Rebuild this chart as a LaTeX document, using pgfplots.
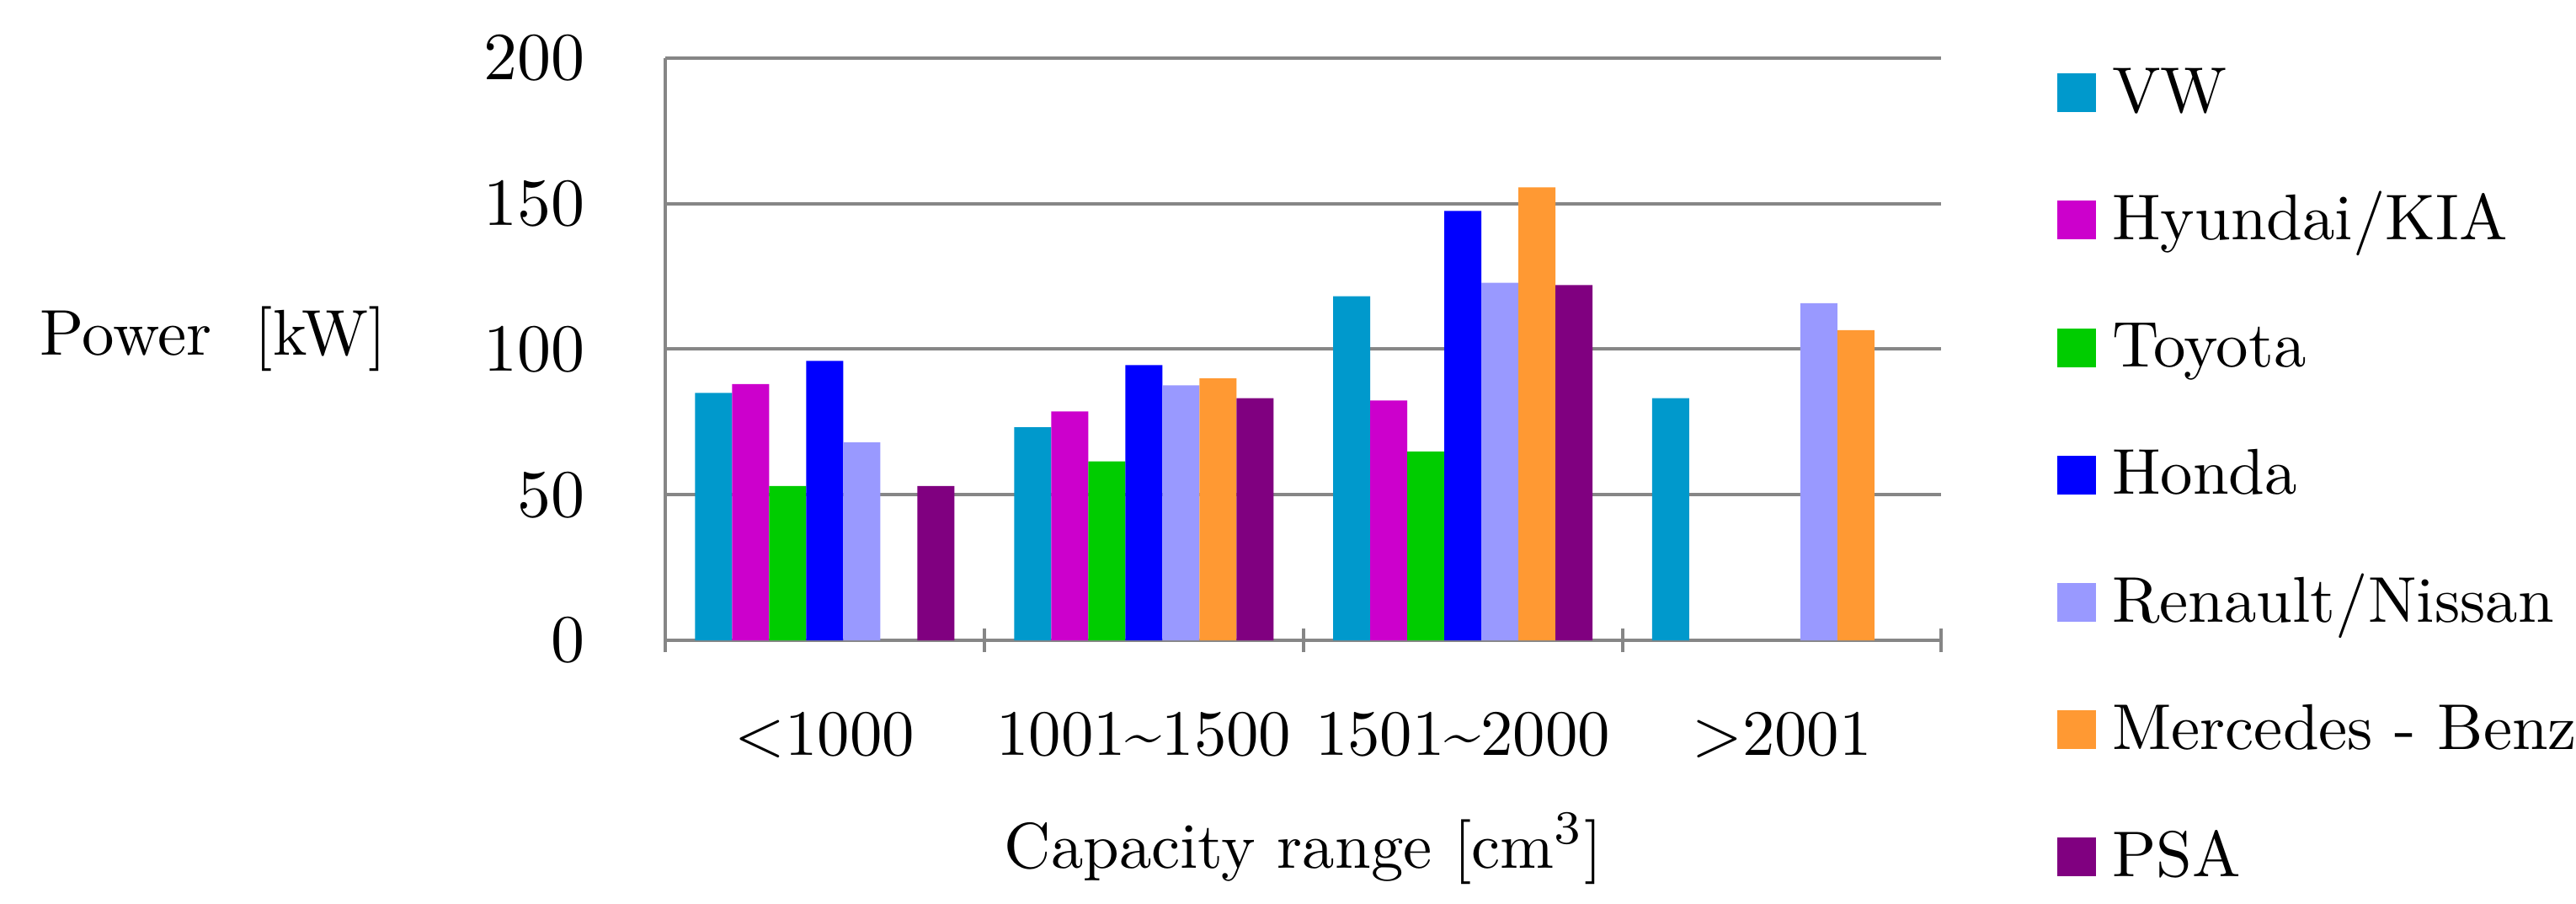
\documentclass[border=0pt]{standalone}
\usepackage{pgfplots}
\pgfplotsset{compat=1.18}

\definecolor{cvw}{RGB}{0,153,204}
\definecolor{chyu}{RGB}{204,0,204}
\definecolor{ctoy}{RGB}{0,204,0}
\definecolor{chon}{RGB}{0,0,255}
\definecolor{cren}{RGB}{153,153,255}
\definecolor{cmer}{RGB}{255,153,51}
\definecolor{cpsa}{RGB}{128,0,128}
\definecolor{gridgray}{RGB}{134,134,134}

\pgfplotsset{
  sq/.style={fill=#1, draw=none,
    legend image code/.code={\fill[#1] (0pt,-2.87pt) rectangle (5.75pt,2.87pt);}},
}

\begin{document}
\fontsize{9.6}{11}\selectfont
\begin{tikzpicture}
  \useasboundingbox (-98.75pt,-39.1pt) rectangle (283.6pt,95pt);
  \begin{axis}[
      at={(0,0)}, anchor=south west,
      scale only axis,
      width=189.4pt, height=86.4pt,
      ybar=0pt, bar width=5.5pt,
      xmin=-0.5, xmax=3.5,
      ymin=0, ymax=200,
      ytick={0,50,...,200},
      xtick={0,1,2,3},
      xticklabels={{<1000},{1001\textasciitilde1500},{1501\textasciitilde2000},{>2001}},
      minor xtick={-0.5,0.5,1.5,2.5,3.5},
      major tick length=0pt,
      minor tick length=3.5pt,
      tick align=outside,
      tick style={gridgray, line width=0.5pt},
      axis x line=bottom, axis y line=left,
      axis line style={-, gridgray, line width=0.5pt},
      ymajorgrids,
      grid style={gridgray, line width=0.5pt},
      yticklabel style={inner sep=0pt, xshift=-11.75pt},
      xticklabel style={anchor=north, inner sep=0pt, yshift=-10.5pt},
      xlabel={Capacity range [cm$^3$]},
      xlabel style={at={(rel axis cs:0.5,0)}, anchor=base, yshift=-33.75pt},
      ylabel={Power\ \ [kW]},
      ylabel style={rotate=-90, at={(rel axis cs:0,0.49)}, anchor=base, xshift=-67.1pt},
      legend style={at={(rel axis cs:1,0.284)}, anchor=west, xshift=17pt,
        draw=none, fill=none, inner sep=0pt, row sep=11.1pt,
        nodes={inner sep=0pt, text height=6.8pt, text depth=1pt}},
      legend cell align=left,
      /tikz/every odd column/.append style={column sep=2.4pt},
    ]
    \addplot[sq=cvw]  coordinates {(0,85) (1,73.2) (2,118.2) (3,83.2)};
    \addplot[sq=chyu] coordinates {(0,88) (1,78.6) (2,82.4)};
    \addplot[sq=ctoy] coordinates {(0,53) (1,61.5) (2,64.9)};
    \addplot[sq=chon] coordinates {(0,96) (1,94.5) (2,147.5)};
    \addplot[sq=cren] coordinates {(0,68) (1,87.6) (2,122.8) (3,115.8)};
    \addplot[sq=cmer] coordinates {(1,90) (2,155.6) (3,106.5)};
    \addplot[sq=cpsa] coordinates {(0,53) (1,83.2) (2,122)};
    \legend{VW, Hyundai/KIA, Toyota, Honda, Renault/Nissan, Mercedes - Benz, PSA}
  \end{axis}
\end{tikzpicture}
\end{document}
